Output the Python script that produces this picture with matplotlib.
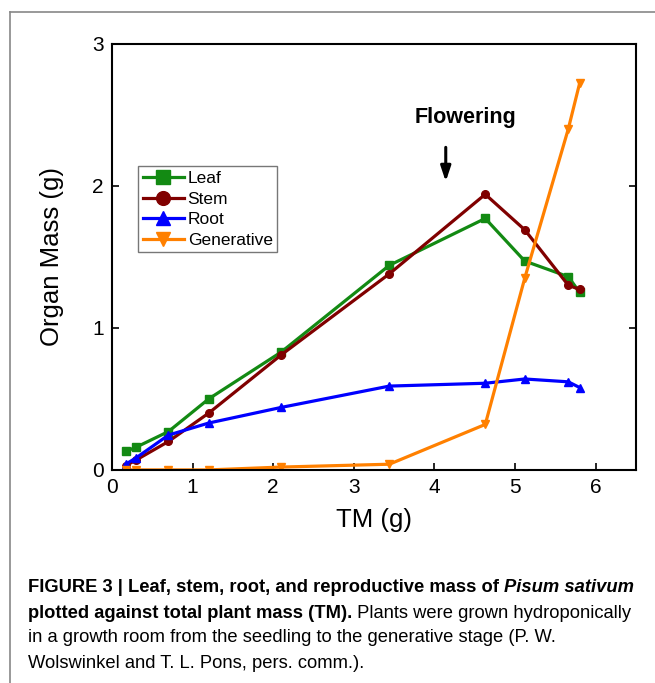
import matplotlib.pyplot as plt
from matplotlib.lines import Line2D

plt.rcParams['font.family'] = ['Liberation Sans', 'DejaVu Sans']

# total plant mass (g) at each harvest
tm = [0.17, 0.30, 0.70, 1.20, 2.10, 3.44, 4.63, 5.12, 5.66, 5.80]

leaf = [0.13, 0.16, 0.27, 0.50, 0.83, 1.44, 1.77, 1.47, 1.36, 1.25]
stem = [0.03, 0.07, 0.20, 0.40, 0.81, 1.38, 1.94, 1.69, 1.30, 1.27]
root = [0.04, 0.085, 0.245, 0.33, 0.44, 0.59, 0.61, 0.64, 0.62, 0.58]
generative = [0.0, 0.0, 0.0, 0.0, 0.02, 0.04, 0.32, 1.35, 2.40, 2.72]

series = [
    ("Leaf", leaf, "#138a13", "s"),
    ("Stem", stem, "#800000", "o"),
    ("Root", root, "#0000ff", "^"),
    ("Generative", generative, "#ff8000", "v"),
]

fig = plt.figure(figsize=(6.55, 6.83), dpi=100)
ax = fig.add_axes([0.171, 0.312, 0.800, 0.624])

for name, vals, col, mk in series:
    ax.plot(tm, vals, color=col, marker=mk, markersize=5.5, linewidth=2.3, label=name)

ax.set_xlim(0, 6.5)
ax.set_ylim(0, 3)
ax.set_xticks([0, 1, 2, 3, 4, 5, 6])
ax.set_yticks([0, 1, 2, 3])
ax.tick_params(direction='in', length=5, width=1.2, labelsize=15, pad=6,
               right=True, top=False)
for s in ax.spines.values():
    s.set_linewidth(1.5)

ax.set_xlabel("TM (g)", fontsize=18.5, labelpad=8)
ax.set_ylabel("Organ Mass (g)", fontsize=18.5, labelpad=20)

leg = ax.legend(loc='upper left', bbox_to_anchor=(0.05, 0.712), fontsize=12.5,
                markerscale=1.8, handlelength=2.4, handletextpad=0.2,
                borderpad=0.25, labelspacing=0.32, frameon=True, fancybox=False,
                borderaxespad=0)
leg.get_frame().set_edgecolor('#555555')
leg.get_frame().set_linewidth(1.0)

ax.text(4.38, 2.48, "Flowering", fontsize=15.5, fontweight='bold',
        ha='center', va='center')
ax.annotate("", xy=(4.14, 2.01), xytext=(4.14, 2.29),
            arrowprops=dict(arrowstyle='-|>,head_length=0.9,head_width=0.3',
                            color='black', lw=2.2))

# frame of the figure panel
fig.add_artist(Line2D([0.016, 1.0], [0.982, 0.982], color='#888888', lw=1.2,
                      transform=fig.transFigure))
fig.add_artist(Line2D([0.016, 0.016], [0.0, 0.982], color='#888888', lw=1.2,
                      transform=fig.transFigure))

# caption
cap = ['Liberation Sans', 'DejaVu Sans']
fs = 13.2
x0 = 0.042
t = fig.text(x0, 1 - 588 / 683, "FIGURE 3 | Leaf, stem, root, and reproductive mass of ",
             family=cap, fontsize=fs, fontweight='bold', va='center')
fig.canvas.draw()
ax.annotate("Pisum sativum", xy=(1, 0), xycoords=t, va='bottom', ha='left',
            family=cap, fontsize=fs, fontweight='bold', fontstyle='italic')
t2 = fig.text(x0, 1 - 613 / 683, "plotted against total plant mass (TM).",
              family=cap, fontsize=fs, fontweight='bold', va='center')
ax.annotate(" Plants were grown hydroponically", xy=(1, 0), xycoords=t2,
            va='bottom', ha='left', family=cap, fontsize=fs)
fig.text(x0, 1 - 638 / 683, "in a growth room from the seedling to the generative stage (P. W.",
         family=cap, fontsize=fs, va='center')
fig.text(x0, 1 - 663 / 683, "Wolswinkel and T. L. Pons, pers. comm.).",
         family=cap, fontsize=fs, va='center')

fig.savefig("out.png", dpi=100)
